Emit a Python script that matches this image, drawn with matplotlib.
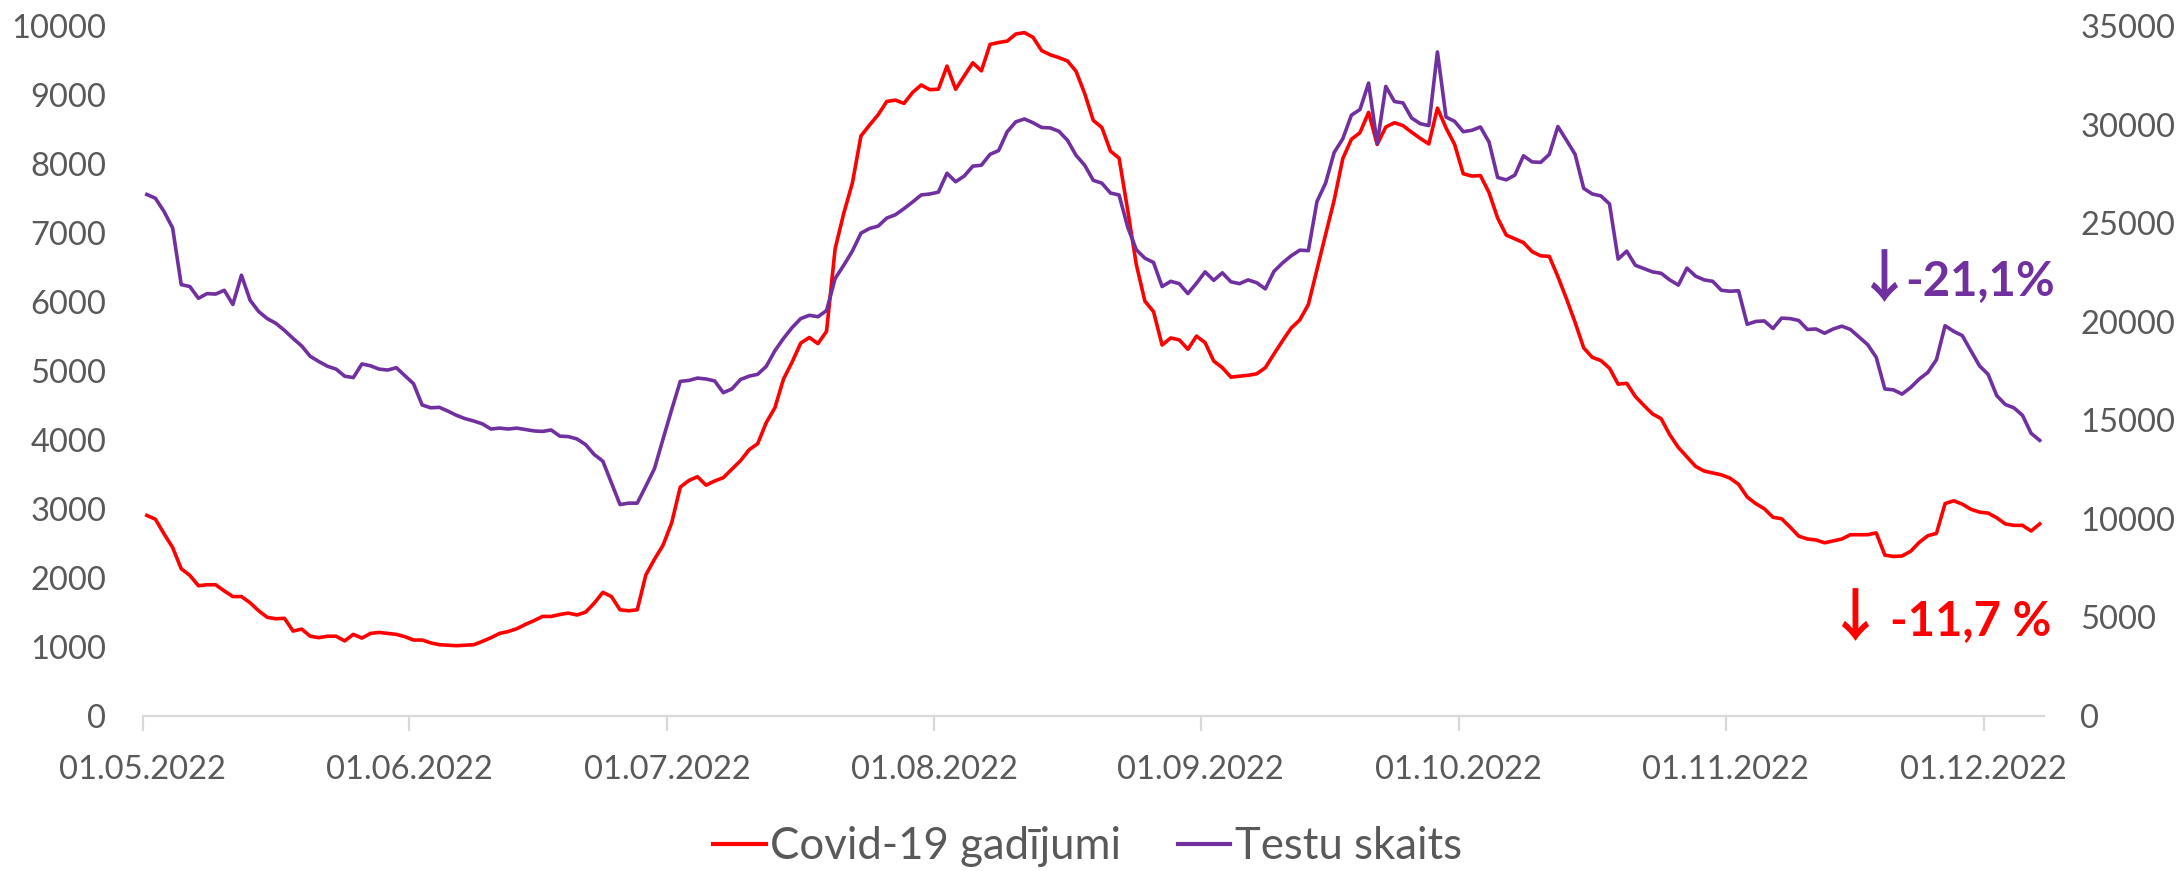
import numpy as np
import pandas as pd
import matplotlib
matplotlib.use("Agg")
import matplotlib.pyplot as plt
import matplotlib.dates as mdates
from matplotlib.lines import Line2D

plt.rcParams['font.family'] = ['Lato', 'DejaVu Sans']

start_date = "2022-05-01"

covid_cases = [
    2907, 2852, 2640, 2442, 2134, 2038, 1888, 1902, 1902, 1813,
    1731, 1731, 1642, 1525, 1430, 1409, 1416, 1231, 1259, 1156,
    1135, 1156, 1156, 1088, 1183, 1129, 1197, 1211, 1197, 1183,
    1149, 1101, 1101, 1060, 1033, 1026, 1019, 1026, 1033, 1081,
    1135, 1197, 1224, 1265, 1327, 1382, 1443, 1443, 1471, 1491,
    1464, 1505, 1635, 1792, 1731, 1539, 1525, 1539, 2045, 2271,
    2476, 2798, 3317, 3413, 3468, 3345, 3406, 3454, 3577, 3700,
    3858, 3947, 4254, 4467, 4884, 5130, 5404, 5486, 5397, 5575,
    6772, 7285, 7722, 8406, 8564, 8714, 8906, 8926, 8878, 9036,
    9145, 9077, 9084, 9419, 9084, 9275, 9467, 9350, 9733, 9761,
    9781, 9884, 9904, 9836, 9644, 9583, 9542, 9494, 9344, 9022,
    8632, 8529, 8187, 8085, 7332, 6546, 6012, 5862, 5376, 5479,
    5451, 5315, 5506, 5410, 5144, 5048, 4911, 4925, 4938, 4959,
    5048, 5246, 5438, 5622, 5739, 5964, 6471, 6977, 7476, 8078,
    8358, 8454, 8748, 8283, 8536, 8598, 8557, 8461, 8372, 8290,
    8810, 8523, 8283, 7859, 7825, 7832, 7586, 7216, 6970, 6915,
    6861, 6731, 6669, 6662, 6368, 6047, 5705, 5335, 5198, 5151,
    5041, 4809, 4822, 4631, 4501, 4378, 4309, 4077, 3892, 3755,
    3618, 3550, 3523, 3495, 3447, 3358, 3174, 3078, 3003, 2880,
    2859, 2736, 2606, 2565, 2551, 2510, 2538, 2565, 2627, 2627,
    2627, 2654, 2332, 2312, 2319, 2387, 2517, 2613, 2647, 3078,
    3119, 3071, 2996, 2955, 2941, 2873, 2784, 2763, 2763, 2681,
    2784,
]

tests = [
    26454, 26262, 25592, 24754, 21881, 21785, 21187, 21426, 21402, 21594,
    20876, 22360, 21091, 20517, 20157, 19918, 19559, 19152, 18769, 18242,
    17979, 17740, 17596, 17237, 17165, 17859, 17763, 17596, 17548, 17668,
    17261, 16854, 15776, 15633, 15657, 15465, 15250, 15082, 14963, 14819,
    14556, 14603, 14556, 14603, 14532, 14460, 14436, 14508, 14196, 14172,
    14053, 13766, 13263, 12928, 11826, 10725, 10797, 10797, 11659, 12545,
    14053, 15537, 16973, 17021, 17141, 17093, 16997, 16399, 16590, 17069,
    17237, 17333, 17740, 18530, 19152, 19703, 20157, 20325, 20253, 20564,
    22192, 22863, 23581, 24491, 24730, 24850, 25257, 25424, 25736, 26071,
    26430, 26478, 26573, 27531, 27100, 27387, 27890, 27938, 28489, 28680,
    29638, 30140, 30284, 30093, 29853, 29829, 29662, 29207, 28441, 27938,
    27172, 27028, 26526, 26430, 24802, 23653, 23222, 23006, 21785, 22049,
    21929, 21426, 21953, 22528, 22097, 22480, 22025, 21929, 22121, 21977,
    21666, 22551, 22982, 23342, 23629, 23605, 26095, 27028, 28584, 29279,
    30476, 30763, 32104, 29039, 31936, 31170, 31098, 30332, 30045, 29949,
    33684, 30380, 30164, 29638, 29710, 29877, 29111, 27316, 27196, 27435,
    28417, 28106, 28082, 28489, 29901, 29207, 28489, 26765, 26478, 26382,
    25975, 23174, 23581, 22863, 22695, 22528, 22456, 22121, 21857, 22719,
    22312, 22121, 22049, 21594, 21546, 21570, 19870, 20014, 20038, 19655,
    20181, 20157, 20062, 19607, 19631, 19415, 19631, 19774, 19607, 19224,
    18841, 18194, 16590, 16543, 16327, 16662, 17093, 17428, 18075, 19798,
    19511, 19296, 18530, 17763, 17333, 16255, 15800, 15633, 15250, 14340,
    13981,
]

legend_labels = ["Covid-19 gadījumi", "Testu skaits"]
left_ticks = list(range(0, 10001, 1000))
right_ticks = list(range(0, 35001, 5000))
arrow_sign = "↓"
change_tests = "-21,1%"
change_cases = "-11,7 %"

RED = "#FF0000"
PURPLE = "#7030A0"
GRAY_TXT = "#595959"
GRAY_AX = "#D9D9D9"

dates = pd.date_range(start_date, periods=len(covid_cases), freq="D")
x = dates + pd.Timedelta(hours=12)

fig = plt.figure(figsize=(21.8, 8.71), dpi=100)
ax = fig.add_axes([0.06537, 0.17796, 0.87225, 0.79219])
ax2 = ax.twinx()

l1, = ax.plot(x, covid_cases, color=RED, lw=2.6, solid_joinstyle='round')
l2, = ax2.plot(x, tests, color=PURPLE, lw=2.6, solid_joinstyle='round')

ax.set_xlim(dates[0], dates[-1] + pd.Timedelta(days=1))
ax.set_ylim(0, 10000)
ax2.set_ylim(0, 35000)
ax.set_yticks(left_ticks)
ax2.set_yticks(right_ticks)

ax.xaxis.set_major_locator(mdates.MonthLocator())
ax.xaxis.set_major_formatter(mdates.DateFormatter("%d.%m.%Y"))

for a in (ax, ax2):
    for s in a.spines.values():
        s.set_visible(False)
ax.spines['bottom'].set_visible(True)
ax.spines['bottom'].set_color(GRAY_AX)
ax.spines['bottom'].set_linewidth(1.6)

ax.tick_params(axis='x', length=11, width=1.6, color=GRAY_AX, pad=17,
               labelsize=23.5, labelcolor=GRAY_TXT)
ax.tick_params(axis='y', length=0, pad=26, labelsize=23.5, labelcolor=GRAY_TXT)
ax2.tick_params(axis='y', length=0, pad=26, labelsize=23.5, labelcolor=GRAY_TXT)

# percentage changes
ax.text(1.006, 0.630, change_tests, transform=ax.transAxes, ha='right', va='center',
        color=PURPLE, fontsize=34, fontweight='bold')
ax.text(0.9158, 0.632, arrow_sign, transform=ax.transAxes, ha='center', va='center',
        color=PURPLE, fontsize=41, fontweight='bold',
        family=['Noto Sans CJK SC', 'DejaVu Sans'])
ax.text(1.004, 0.138, change_cases, transform=ax.transAxes, ha='right', va='center',
        color=RED, fontsize=34, fontweight='bold')
ax.text(0.9006, 0.140, arrow_sign, transform=ax.transAxes, ha='center', va='center',
        color=RED, fontsize=41, fontweight='bold',
        family=['Noto Sans CJK SC', 'DejaVu Sans'])

handles = [Line2D([], [], color=RED, lw=3), Line2D([], [], color=PURPLE, lw=3)]
leg = fig.legend(handles, legend_labels, loc='center', bbox_to_anchor=(0.499, 0.028),
                 ncol=2, frameon=False, fontsize=31.5, handlelength=1.19,
                 handletextpad=0.11, columnspacing=1.3)
for t in leg.get_texts():
    t.set_color(GRAY_TXT)

fig.savefig("out.png", dpi=100)
